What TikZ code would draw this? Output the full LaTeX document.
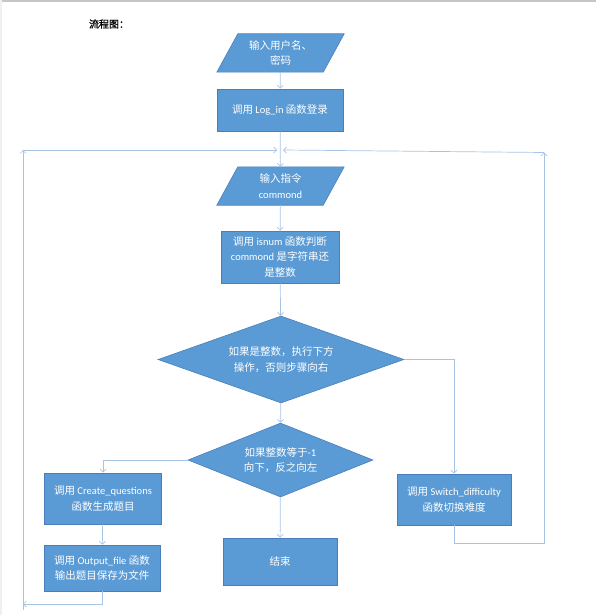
\documentclass[tikz,border=0pt]{standalone}
\usepackage{fontspec}
\setmainfont{Noto Sans CJK SC}
\newfontfamily\lat{Carlito}
\newfontfamily\titlefont[FakeBold=1.2]{Noto Sans CJK SC}
\usetikzlibrary{arrows.meta,shapes.geometric,backgrounds}
\definecolor{boxblue}{HTML}{5B9BD5}
\definecolor{boxedge}{HTML}{4A7EBB}
\definecolor{linkblue}{HTML}{A7C4E5}

\begin{document}
\begin{tikzpicture}[x=1pt,y=-1pt,
    txt/.style={text=white,align=center,inner sep=0pt,font=\fontsize{10.5}{15.5}\selectfont},
    box/.style={txt,rectangle,draw=boxedge,fill=boxblue,line width=0.6pt},
    iobox/.style={txt,rectangle,minimum width=106,minimum height=38},
    choice/.style={txt,diamond,draw=boxedge,fill=boxblue,line width=0.6pt},
    link/.style={draw=linkblue,line width=0.7pt,-{Straight Barb[length=3pt,width=6pt]}}]
  \useasboundingbox (0,0) rectangle (596,615);
  \draw[gray!45,line width=1.5pt] (0,1) -- (596,1);
  \fill[gray!12] (0,0) rectangle (2,615);
  \node[font=\titlefont\fontsize{10}{12}\selectfont] (title) at (109,24) {流程图：};
  \node[iobox] (in1) at (280.5,53) {输入用户名、\\密码};
  \node[box,minimum width=126,minimum height=42] (login) at (280,110) {调用 {\lat Log\_in} 函数登录};
  \node[iobox] (in2) at (280.5,186) {输入指令\\{\lat commond}};
  \node[box,minimum width=118,minimum height=52] (isnum) at (280,257) {调用 {\lat isnum} 函数判断\\{\lat commond} 是字符串还\\是整数};
  \node[choice,minimum width=246,minimum height=87,shape aspect=2.8] (dia1) at (281,359.5) {如果是整数，执行下方\\操作，否则步骤向右};
  \node[choice,minimum width=185,minimum height=74,shape aspect=2.5] (dia2) at (280.5,460) {如果整数等于{\lat -1}\\向下，反之向左};
  \node[box,minimum width=117,minimum height=51] (create) at (103,498.5) {调用 {\lat Create\_questions}\\函数生成题目};
  \node[box,minimum width=116,minimum height=46] (output) at (102,568) {调用 {\lat Output\_file} 函数\\输出题目保存为文件};
  \node[box,minimum width=114,minimum height=47] (end) at (280,561.5) {结束};
  \node[box,minimum width=114,minimum height=51] (switch) at (454,499.5) {调用 {\lat Switch\_difficulty}\\函数切换难度};
  \begin{scope}[on background layer]
    \foreach \n in {in1,in2}
      \filldraw[draw=boxedge,fill=boxblue,line width=0.6pt] ([xshift=10.5]\n.north west) -- ([xshift=10.5]\n.north east) -- ([xshift=-10.5]\n.south east) -- ([xshift=-10.5]\n.south west) -- cycle;
  \end{scope}
  \coordinate (jl) at (277,150);
  \coordinate (jr) at (283,150);
  \coordinate (tl) at (23,150);
  \coordinate (tr) at (544,152.5);
  \coordinate (bl) at (23,604);
  \coordinate (bl0) at (23,610);
  \coordinate (br) at (544,543);
  \draw[link] (in1) -- (login);
  \draw[link] (login) -- (in2);
  \draw[link] (in2) -- (isnum);
  \draw[link] (isnum) -- (dia1);
  \draw[link] (dia1) -- (dia2);
  \draw[link] (dia2) -- (end);
  \draw[link] (dia1.east) -| (switch.north);
  \draw[link] (dia2.west) -| (create.north);
  \draw[link] (create) -- (output);
  \draw[link] (output.south) |- (bl);
  \draw[link] (bl0) -- (tl);
  \draw[link] (tl) -- (jl);
  \draw[link] (switch.south) |- (br) -- (tr);
  \draw[link] (tr) -- (jr);
\end{tikzpicture}
\end{document}
